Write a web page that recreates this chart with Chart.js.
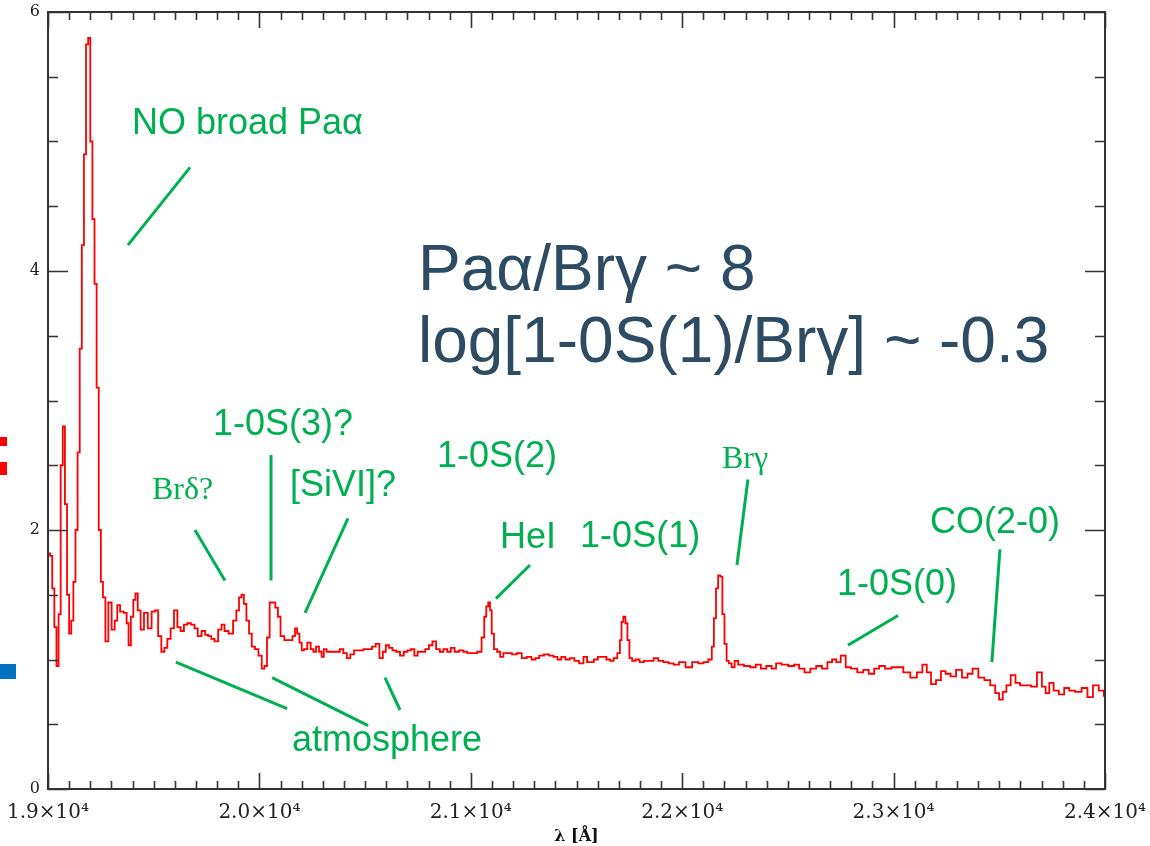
<!DOCTYPE html>
<html>
<head>
<meta charset="utf-8">
<script src="https://cdn.jsdelivr.net/npm/chart.js@4/dist/chart.umd.min.js"></script>
<style>
  html, body { margin: 0; padding: 0; background: #fff; }
  #wrap { width: 1150px; height: 846px; position: relative; }
</style>
</head>
<body>
<div id="wrap"><canvas id="chart" width="1150" height="846"></canvas></div>
<script>
// wavelength in Angstrom and flux
const wave = [
  18995, 19005, 19015, 19025, 19035, 19045, 19055, 19065, 19075, 19085,
  19095, 19105, 19115, 19125, 19135, 19145, 19155, 19165, 19175, 19185,
  19195, 19205, 19215, 19225, 19235, 19245, 19255, 19265, 19278, 19293,
  19309, 19322, 19333, 19349, 19367, 19377, 19385, 19399, 19408, 19419,
  19430, 19446, 19462, 19482, 19498, 19514, 19528, 19544, 19557, 19572,
  19588, 19604, 19620, 19635, 19651, 19667, 19686, 19700, 19717, 19736,
  19751, 19766, 19779, 19796, 19814, 19828, 19842, 19866, 19885, 19897,
  19910, 19921, 19932, 19945, 19957, 19971, 19987, 20004, 20018, 20030,
  20042, 20055, 20068, 20082, 20093, 20107, 20129, 20149, 20164, 20173,
  20184, 20195, 20205, 20217, 20236, 20249, 20262, 20274, 20290, 20299,
  20310, 20326, 20347, 20372, 20389, 20405, 20422, 20438, 20457, 20482,
  20503, 20523, 20542, 20558, 20577, 20591, 20605, 20621, 20638, 20656,
  20674, 20692, 20709, 20725, 20741, 20756, 20775, 20794, 20810, 20827,
  20845, 20862, 20879, 20898, 20914, 20933, 20955, 20974, 20993, 21018,
  21043, 21059, 21068, 21078, 21087, 21095, 21103, 21116, 21132, 21146,
  21162, 21182, 21206, 21229, 21253, 21277, 21297, 21314, 21333, 21359,
  21381, 21401, 21419, 21437, 21458, 21479, 21501, 21523, 21543, 21557,
  21573, 21591, 21611, 21632, 21651, 21668, 21684, 21702, 21709, 21717,
  21726, 21737, 21745, 21756, 21770, 21789, 21808, 21829, 21854, 21876,
  21898, 21923, 21948, 21971, 21999, 22032, 22062, 22090, 22112, 22135,
  22145, 22155, 22165, 22175, 22185, 22195, 22205, 22215, 22226, 22242,
  22254, 22276, 22308, 22336, 22360, 22384, 22412, 22434, 22454, 22486,
  22518, 22541, 22565, 22592, 22620, 22648, 22675, 22699, 22719, 22738,
  22762, 22785, 22812, 22844, 22869, 22896, 22920, 22943, 22975, 23005,
  23030, 23062, 23096, 23124, 23148, 23166, 23188, 23213, 23235, 23257,
  23282, 23309, 23338, 23361, 23386, 23416, 23443, 23471, 23490, 23508,
  23525, 23542, 23566, 23587, 23609, 23636, 23664, 23692, 23711, 23727,
  23746, 23768, 23795, 23819, 23843, 23874, 23905, 23929, 23957, 23984,
  24005
];
const flux = [
  0.86, 1.82, 1.80, 1.55, 1.25, 0.95, 1.35, 2.50, 2.80, 2.20,
  1.50, 1.20, 1.30, 1.60, 2.00, 2.60, 3.40, 4.20, 4.90, 5.75,
  5.80, 5.00, 4.40, 3.90, 3.10, 2.00, 1.60, 1.48, 1.14, 1.44,
  1.23, 1.30, 1.42, 1.37, 1.36, 1.28, 1.11, 1.33, 1.46, 1.51,
  1.38, 1.23, 1.36, 1.24, 1.37, 1.38, 1.18, 1.06, 1.09, 1.16,
  1.24, 1.38, 1.25, 1.22, 1.27, 1.28, 1.27, 1.24, 1.18, 1.22,
  1.19, 1.18, 1.16, 1.14, 1.23, 1.27, 1.22, 1.20, 1.30, 1.38,
  1.48, 1.50, 1.43, 1.30, 1.20, 1.10, 1.08, 1.03, 0.93, 0.95,
  1.17, 1.44, 1.44, 1.40, 1.33, 1.18, 1.15, 1.15, 1.18, 1.24,
  1.20, 1.13, 1.07, 1.08, 1.13, 1.08, 1.06, 1.10, 1.06, 1.02,
  1.08, 1.06, 1.06, 1.06, 1.08, 1.05, 1.01, 1.04, 1.07, 1.07,
  1.08, 1.08, 1.10, 1.12, 1.01, 1.06, 1.11, 1.09, 1.07, 1.06,
  1.03, 1.06, 1.07, 1.08, 1.03, 1.06, 1.06, 1.08, 1.11, 1.14,
  1.08, 1.06, 1.08, 1.06, 1.09, 1.06, 1.07, 1.06, 1.05, 1.05,
  1.06, 1.17, 1.33, 1.41, 1.44, 1.38, 1.20, 1.08, 1.06, 1.02,
  1.05, 1.05, 1.04, 1.05, 1.01, 1.02, 1.00, 1.01, 1.03, 1.04,
  1.03, 1.02, 1.00, 1.02, 1.00, 1.01, 0.99, 0.97, 1.02, 0.98,
  0.98, 1.00, 1.02, 1.02, 1.00, 0.99, 1.01, 1.05, 1.15, 1.29,
  1.33, 1.28, 1.15, 1.01, 0.99, 1.00, 0.98, 0.99, 0.99, 1.01,
  0.99, 0.98, 0.97, 0.96, 0.98, 0.94, 0.98, 0.97, 0.98, 1.00,
  1.10, 1.32, 1.55, 1.65, 1.64, 1.35, 1.12, 0.99, 0.97, 0.94,
  0.99, 0.96, 0.95, 0.94, 0.96, 0.93, 0.95, 0.93, 0.97, 0.96,
  0.95, 0.96, 0.93, 0.90, 0.93, 0.95, 0.93, 0.98, 1.00, 0.98,
  1.03, 0.94, 0.93, 0.90, 0.92, 0.89, 0.93, 0.95, 0.93, 0.94,
  0.94, 0.90, 0.86, 0.90, 0.96, 0.90, 0.81, 0.84, 0.91, 0.89,
  0.87, 0.92, 0.86, 0.89, 0.93, 0.86, 0.84, 0.80, 0.74, 0.69,
  0.75, 0.80, 0.88, 0.82, 0.80, 0.80, 0.79, 0.90, 0.79, 0.74,
  0.82, 0.76, 0.73, 0.78, 0.76, 0.75, 0.78, 0.71, 0.80, 0.76,
  0.72
];

const xTickValues = [19000, 20000, 21000, 22000, 23000, 24000];
const xTickLabels = ['1.9×10⁴', '2.0×10⁴', '2.1×10⁴', '2.2×10⁴', '2.3×10⁴', '2.4×10⁴'];
const yTickLabels = ['0', '2', '4', '6'];

// line labels: text, x (Å), y (flux), serif?
const labelTexts = ['NO broad Paα', 'Brδ?', '1-0S(3)?', '[SiVI]?', '1-0S(2)', 'HeI', '1-0S(1)', 'Brγ', 'CO(2-0)', '1-0S(0)', 'atmosphere'];
const labelX = [19397, 19492, 19780, 20145, 20840, 21138, 21517, 22188, 23172, 22732, 20154];
const labelY = [5.06, 2.24, 2.73, 2.26, 2.49, 1.86, 1.87, 2.48, 1.98, 1.50, 0.29];
const labelSerif = [false, true, false, false, false, false, false, true, false, false, false];

// pointer lines [x0, y0, x1, y1] in data units
const pointers = [
  [19672, 4.80, 19378, 4.20],
  [19695, 2.00, 19837, 1.61],
  [20055, 2.58, 20055, 1.61],
  [20419, 2.09, 20216, 1.36],
  [21280, 1.73, 21119, 1.47],
  [22311, 2.39, 22259, 1.73],
  [23503, 1.85, 23465, 0.98],
  [23021, 1.34, 22784, 1.11],
  [19605, 0.98, 20131, 0.62],
  [20060, 0.86, 20514, 0.49],
  [20594, 0.86, 20665, 0.61]
];

const ratioLines = ['Paα/Brγ ~ 8', 'log[1-0S(1)/Brγ] ~ -0.3'];
const ratioX = 20750;
const ratioY = [3.85, 3.30];

const green = '#00b050';

const decor = {
  id: 'decor',
  afterDraw(chart) {
    const { ctx, chartArea: a, scales: { x, y } } = chart;
    ctx.save();
    // frame + inward ticks on all four sides
    ctx.strokeStyle = '#333';
    ctx.lineWidth = 2;
    ctx.strokeRect(a.left, a.top, a.right - a.left, a.bottom - a.top);
    ctx.lineWidth = 1.6;
    ctx.beginPath();
    for (let i = 0; i <= 50; i++) {
      const px = Math.round(x.getPixelForValue(19000 + i * 100)) + 0.5;
      const len = i % 10 === 0 ? 16 : 8;
      ctx.moveTo(px, a.bottom); ctx.lineTo(px, a.bottom - len);
      ctx.moveTo(px, a.top); ctx.lineTo(px, a.top + len);
    }
    for (let i = 0; i <= 12; i++) {
      const py = Math.round(y.getPixelForValue(i * 0.5)) + 0.5;
      const len = i % 4 === 0 ? 20 : 10;
      ctx.moveTo(a.left, py); ctx.lineTo(a.left + len, py);
      ctx.moveTo(a.right, py); ctx.lineTo(a.right - len, py);
    }
    ctx.stroke();

    // green pointer lines
    ctx.strokeStyle = green;
    ctx.lineWidth = 3;
    ctx.beginPath();
    pointers.forEach(p => {
      ctx.moveTo(x.getPixelForValue(p[0]), y.getPixelForValue(p[1]));
      ctx.lineTo(x.getPixelForValue(p[2]), y.getPixelForValue(p[3]));
    });
    ctx.stroke();

    // green labels
    ctx.fillStyle = green;
    ctx.textBaseline = 'alphabetic';
    ctx.textAlign = 'left';
    labelTexts.forEach((t, i) => {
      ctx.font = labelSerif[i] ? '32px "Liberation Serif"' : '36px "Liberation Sans"';
      ctx.fillText(t, x.getPixelForValue(labelX[i]), y.getPixelForValue(labelY[i]));
    });

    // ratio text
    ctx.fillStyle = '#2d4b63';
    ctx.font = '64px "Liberation Sans"';
    ratioLines.forEach((t, i) => {
      ctx.fillText(t, x.getPixelForValue(ratioX), y.getPixelForValue(ratioY[i]));
    });

    // bits of other slide elements at the left edge
    ctx.fillStyle = '#ff0000';
    ctx.fillRect(0, 437, 7, 9);
    ctx.fillRect(0, 462, 7, 13);
    ctx.fillStyle = '#0070c0';
    ctx.fillRect(0, 664, 16, 15);
    ctx.restore();
  }
};

new Chart(document.getElementById('chart'), {
  type: 'line',
  data: {
    datasets: [{
      data: wave.map((w, i) => ({ x: w, y: flux[i] })),
      borderColor: '#ff0000',
      borderWidth: 1.8,
      pointRadius: 0,
      stepped: 'middle',
      fill: false
    }]
  },
  options: {
    responsive: false,
    animation: false,
    devicePixelRatio: 1,
    layout: { padding: { top: 12, right: 45, left: 0, bottom: 0 } },
    plugins: { legend: { display: false }, tooltip: { enabled: false } },
    scales: {
      x: {
        type: 'linear',
        min: 19000,
        max: 24000,
        grid: { display: false, drawTicks: false },
        border: { display: false },
        afterBuildTicks: s => { s.ticks = xTickValues.map(v => ({ value: v })); },
        ticks: {
          padding: 12,
          maxRotation: 0,
          color: '#222',
          font: { family: 'DejaVu Serif', size: 20 },
          callback: v => xTickLabels[xTickValues.indexOf(v)]
        },
        title: {
          display: true,
          text: 'λ [Å]',
          color: '#111',
          font: { family: 'DejaVu Serif', size: 16, weight: 'bold' },
          padding: { top: 0, bottom: 0 }
        },
        afterFit: s => {
          s.height = 57;
          s.paddingLeft = 0;
          s.paddingRight = 0;
        }
      },
      y: {
        min: 0,
        max: 6,
        grid: { display: false, drawTicks: false },
        border: { display: false },
        ticks: {
          stepSize: 2,
          padding: 8,
          color: '#222',
          font: { family: 'DejaVu Serif', size: 16 },
          callback: v => yTickLabels[v / 2]
        },
        afterFit: s => {
          s.width = 48;
          s.paddingTop = 0;
          s.paddingBottom = 0;
        }
      }
    }
  },
  plugins: [decor]
});
</script>
</body>
</html>
